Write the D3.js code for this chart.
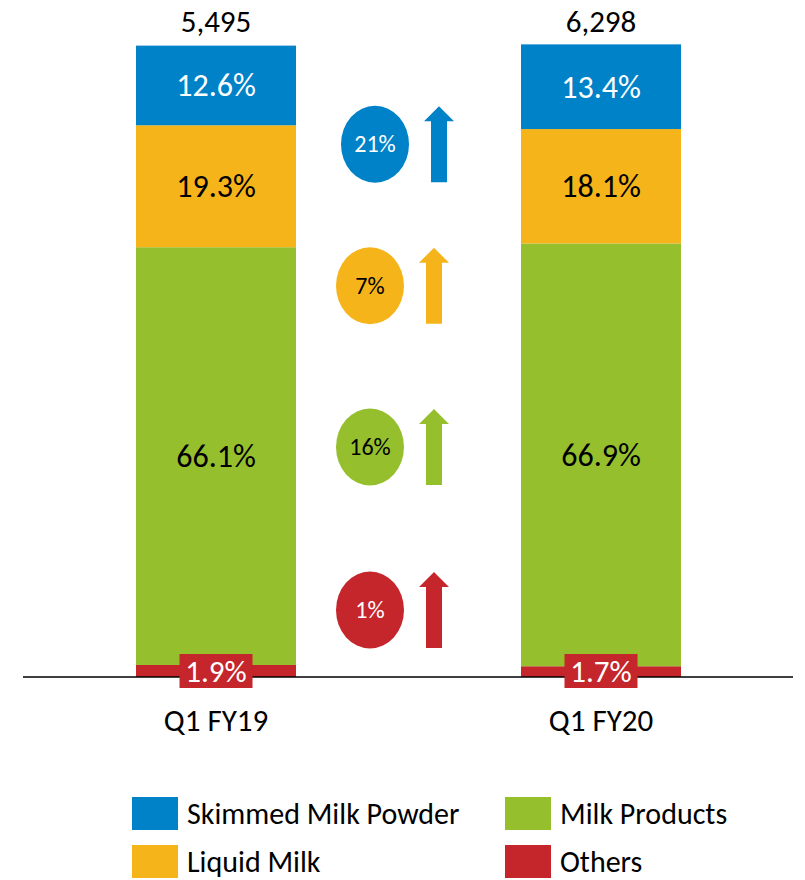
<!DOCTYPE html>
<html><head><meta charset="utf-8">
<script src="https://cdn.jsdelivr.net/npm/d3@7"></script>
<style>body{margin:0;background:#fff}svg{display:block;font-family:Carlito,Calibri,Lato,"Open Sans",sans-serif}</style>
</head><body>
<svg id="c" width="805" height="880"></svg>
<script>
const categories = ["Q1 FY19", "Q1 FY20"];
const totals = ["5,495", "6,298"];
const seriesNames = ["Others", "Milk Products", "Liquid Milk", "Skimmed Milk Powder"];
const others = [1.9, 1.7];
const milkProducts = [66.1, 66.9];
const liquidMilk = [19.3, 18.1];
const skimmedMilkPowder = [12.6, 13.4];
const colors = ["#C4262B", "#96BF2D", "#F6B41B", "#0082C8"];
const growth = ["1%", "16%", "7%", "21%"];
const growthPos = [10.6, 36.4, 61.9, 84.3];

const svg = d3.select("#c");
const rows = categories.map((c, i) => ({cat: c, "Others": others[i], "Milk Products": milkProducts[i], "Liquid Milk": liquidMilk[i], "Skimmed Milk Powder": skimmedMilkPowder[i]}));
const stack = d3.stack().keys(seriesNames)(rows);

const x = d3.scaleBand().domain(categories).range([56, 761]).paddingInner(0.5844).paddingOuter(0.2078);
const y = d3.scaleLinear().domain([0, 100]).range([677, 45]);

const g = svg.append("g");
stack.forEach((s, si) => {
  g.selectAll(null).data(s).enter().append("rect")
    .attr("x", d => x(d.data.cat)).attr("width", x.bandwidth())
    .attr("y", d => y(d[1])).attr("height", d => y(d[0]) - y(d[1]))
    .attr("fill", colors[si]);
});

// axis line
svg.append("line").attr("x1", 23).attr("x2", 793).attr("y1", y(0)).attr("y2", y(0)).attr("stroke", "#000").attr("stroke-width", 1.5);

// segment labels
stack.forEach((s, si) => {
  if (si === 0) return;
  g.selectAll(null).data(s).enter().append("text")
    .attr("x", d => x(d.data.cat) + x.bandwidth() / 2)
    .attr("y", d => (y(d[0]) + y(d[1])) / 2 + 11)
    .attr("text-anchor", "middle").attr("font-size", 32)
    .attr("fill", si === 3 ? "#fff" : "#000")
    .text(d => (d[1] - d[0]).toFixed(1) + "%");
});
// others labels in boxes
stack[0].forEach(d => {
  const cx = x(d.data.cat) + x.bandwidth() / 2;
  const cy = y(0) - 6;
  svg.append("rect").attr("x", cx - 36.5).attr("y", cy - 17).attr("width", 73).attr("height", 34).attr("fill", colors[0]);
  svg.append("text").attr("x", cx).attr("y", cy + 11).attr("text-anchor", "middle").attr("font-size", 31).attr("fill", "#fff").text((d[1] - d[0]).toFixed(1) + "%");
});

// totals
svg.selectAll(null).data(categories).enter().append("text")
  .attr("x", d => x(d) + x.bandwidth() / 2).attr("y", 32)
  .attr("text-anchor", "middle").attr("font-size", 31).attr("fill", "#000")
  .text((d, i) => totals[i]);

// category labels
svg.selectAll(null).data(categories).enter().append("text")
  .attr("x", d => x(d) + x.bandwidth() / 2).attr("y", 731)
  .attr("text-anchor", "middle").attr("font-size", 31).attr("fill", "#000")
  .text(d => d);

// growth ellipses and arrows
growth.forEach((t, i) => {
  const cy = y(growthPos[i]);
  const gx = i === 3 ? 375 : 370, ax = i === 3 ? 439 : 434;
  svg.append("ellipse").attr("cx", gx).attr("cy", cy).attr("rx", 34).attr("ry", 38.5).attr("fill", colors[i]);
  svg.append("text").attr("x", gx).attr("y", cy + 8).attr("text-anchor", "middle").attr("font-size", 24).attr("fill", i === 3 || i === 0 ? "#fff" : "#000").text(t);
  const top = cy - 38, bot = cy + 38;
  const p = d3.path();
  p.moveTo(ax, top); p.lineTo(ax + 15, top + 15); p.lineTo(ax + 8, top + 15); p.lineTo(ax + 8, bot);
  p.lineTo(ax - 8, bot); p.lineTo(ax - 8, top + 15); p.lineTo(ax - 15, top + 15); p.closePath();
  svg.append("path").attr("d", p.toString()).attr("fill", colors[i]);
});

// legend
const legendItems = [[3, 132, 797], [1, 505, 797], [2, 132, 845], [0, 505, 845]];
legendItems.forEach(([si, lx, ly]) => {
  svg.append("rect").attr("x", lx).attr("y", ly).attr("width", 46).attr("height", 33).attr("fill", colors[si]);
  svg.append("text").attr("x", lx + 55).attr("y", ly + 27).attr("font-size", 30).attr("fill", "#000").text(seriesNames[si]);
});
</script>
</body></html>
